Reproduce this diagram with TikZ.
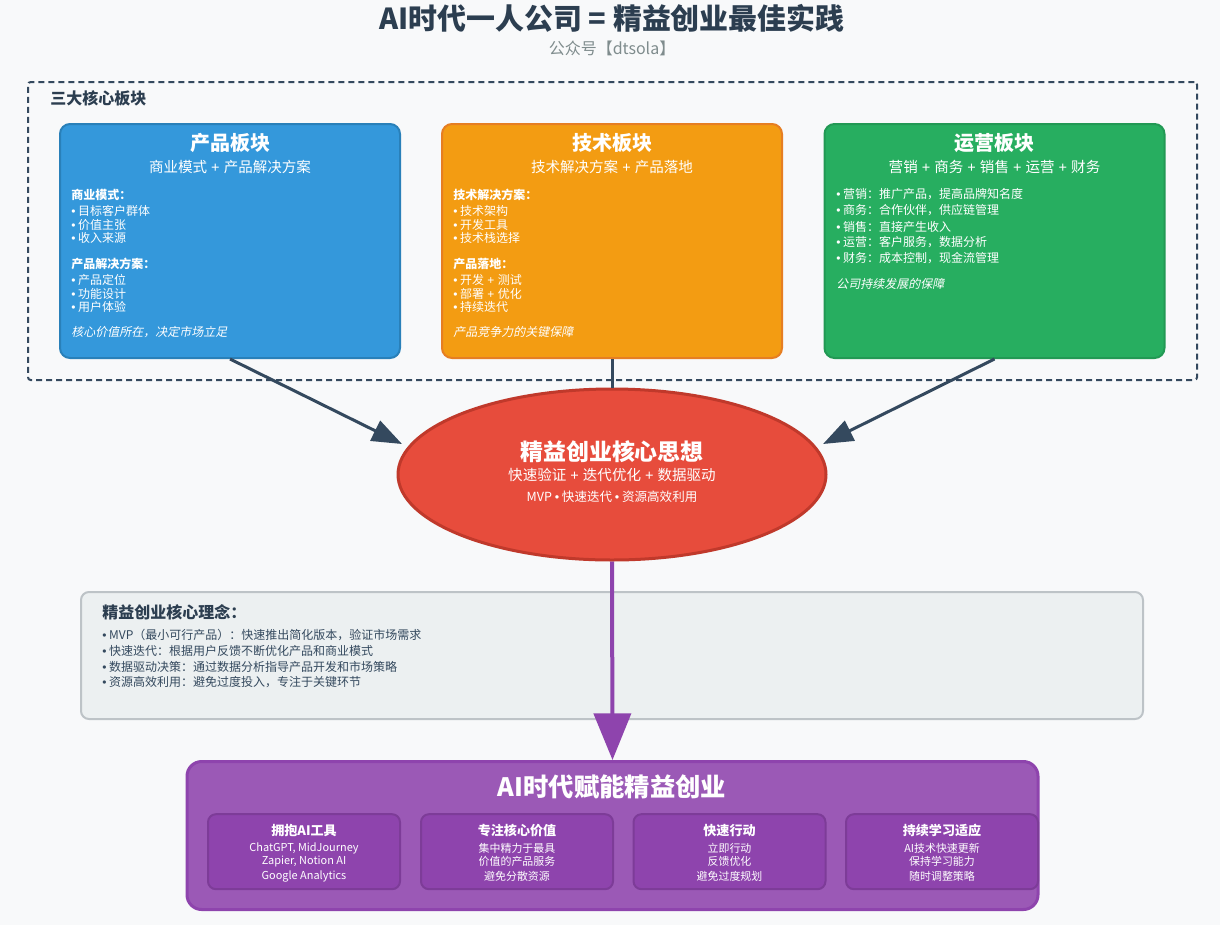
\documentclass[tikz,border=0pt]{standalone}
\usepackage{fontspec}
\setmainfont{Noto Sans CJK SC}
\newfontfamily\slfont{Noto Sans CJK SC}[FakeSlant=0.2]
\newfontfamily\latf{Liberation Sans}
\newcommand{\bl}{{\latf •} }
\newcommand{\pl}{{\latf{} + }}
\usetikzlibrary{arrows.meta,shapes.geometric}
\definecolor{bg}{HTML}{F8F9FA}
\definecolor{ink}{HTML}{2C3E50}
\definecolor{ink2}{HTML}{34495E}
\definecolor{greyt}{HTML}{7F8C8D}
\definecolor{bluef}{HTML}{3498DB}
\definecolor{blued}{HTML}{2980B9}
\definecolor{orf}{HTML}{F39C12}
\definecolor{ord}{HTML}{E67E22}
\definecolor{grf}{HTML}{27AE60}
\definecolor{grd}{HTML}{229954}
\definecolor{redf}{HTML}{E74C3C}
\definecolor{redd}{HTML}{C0392B}
\definecolor{conf}{HTML}{ECF0F1}
\definecolor{cond}{HTML}{BDC3C7}
\definecolor{purf}{HTML}{9B59B6}
\definecolor{purd}{HTML}{8E44AD}
\definecolor{purdd}{HTML}{7D3C98}
\tikzset{
  panel/.style={draw, rounded corners=7.5pt, line width=1.5pt, inner sep=0pt,
    minimum width=255pt, minimum height=175.5pt},
  ptitle/.style={font=\bfseries\fontsize{15}{18}\selectfont, text=white, inner sep=0pt},
  psub/.style={font=\fontsize{10.9}{13}\selectfont, text=white, inner sep=0pt},
  itm/.style={font=\fontsize{9}{11}\selectfont, text=white, anchor=west, inner sep=0pt},
  itb/.style={itm, font=\bfseries\fontsize{9}{11}\selectfont},
  iti/.style={itm, font=\slfont\fontsize{9}{11}\selectfont},
  darrow/.style={draw=ink2, line width=2.25pt, -{Triangle[length=22.5pt,width=16.5pt]}},
  cbox/.style={draw=purdd, fill=purd, line width=1.5pt, rounded corners=6pt,
    minimum width=144pt, minimum height=56.25pt, inner sep=0pt},
  ctitle/.style={font=\bfseries\fontsize{9.8}{12}\selectfont, text=white, inner sep=0pt},
  cline/.style={font=\fontsize{8.2}{10}\selectfont, text=white, inner sep=0pt},
  citm/.style={font=\fontsize{9}{11}\selectfont, text=ink2, anchor=west, inner sep=0pt}
}
\begin{document}
\begin{tikzpicture}[x=0.75pt,y=-0.75pt]
\useasboundingbox (0,0) rectangle (1220,925);
\fill[bg] (0,0) rectangle (1220,925);

% title
\node[font=\bfseries\fontsize{21.7}{25}\selectfont, text=ink, inner sep=0pt] (title) at (612,18) {AI时代一人公司 = 精益创业最佳实践};
\node[font=\fontsize{12}{14}\selectfont, text=greyt, inner sep=0pt] (subtitle) at (612,48) {公众号【dtsola】};

% dashed frame
\node[draw=ink2, line width=1.5pt, dash pattern=on 4.5pt off 3pt, rounded corners=2pt,
  minimum width=876.75pt, minimum height=223.5pt, inner sep=0pt] (frame) at (612.5,231) {};
\node[font=\bfseries\fontsize{12}{14}\selectfont, text=ink, anchor=west, inner sep=0pt] (framelbl) at (50,98) {三大核心板块};

% product panel
\node[panel, fill=bluef, draw=blued] (prod) at (230,241) {};
\node[ptitle] (prodt) at (230,143) {产品板块};
\node[psub] (prods) at (230,166.5) {商业模式\pl 产品解决方案};
\node[itb] (p1) at (71,194.5) {商业模式：};
\node[itm] (p2) at (71,210.5) {\bl 目标客户群体};
\node[itm] (p3) at (71,224.5) {\bl 价值主张};
\node[itm] (p4) at (71,238) {\bl 收入来源};
\node[itb] (p5) at (71,264) {产品解决方案：};
\node[itm] (p6) at (71,280) {\bl 产品定位};
\node[itm] (p7) at (71,293.5) {\bl 功能设计};
\node[itm] (p8) at (71,307) {\bl 用户体验};
\node[iti] (p9) at (71,332) {核心价值所在，决定市场立足};

% tech panel
\node[panel, fill=orf, draw=ord] (tech) at (612,241) {};
\node[ptitle] (techt) at (612,143) {技术板块};
\node[psub] (techs) at (612,166.5) {技术解决方案\pl 产品落地};
\node[itb] (t1) at (453,194.5) {技术解决方案：};
\node[itm] (t2) at (453,210.5) {\bl 技术架构};
\node[itm] (t3) at (453,224.5) {\bl 开发工具};
\node[itm] (t4) at (453,238) {\bl 技术栈选择};
\node[itb] (t5) at (453,264) {产品落地：};
\node[itm] (t6) at (453,280) {\bl 开发\pl 测试};
\node[itm] (t7) at (453,293.5) {\bl 部署\pl 优化};
\node[itm] (t8) at (453,307) {\bl 持续迭代};
\node[iti] (t9) at (453,332) {产品竞争力的关键保障};

% ops panel
\node[panel, fill=grf, draw=grd] (ops) at (994.5,241) {};
\node[ptitle] (opst) at (994.5,143) {运营板块};
\node[psub] (opss) at (994.5,166.5) {营销\pl 商务\pl 销售\pl 运营\pl 财务};
\node[itm] (o1) at (836,194.5) {\bl 营销：推广产品，提高品牌知名度};
\node[itm] (o2) at (836,210.5) {\bl 商务：合作伙伴，供应链管理};
\node[itm] (o3) at (836,226.5) {\bl 销售：直接产生收入};
\node[itm] (o4) at (836,242.5) {\bl 运营：客户服务，数据分析};
\node[itm] (o5) at (836,258.5) {\bl 财务：成本控制，现金流管理};
\node[iti] (o6) at (836,284) {公司持续发展的保障};

% concept box
\node[draw=cond, fill=conf, line width=1.5pt, rounded corners=6pt,
  minimum width=796.5pt, minimum height=95.25pt, inner sep=0pt] (concept) at (612,655.5) {};
\node[font=\bfseries\fontsize{12}{14}\selectfont, text=ink, anchor=west, inner sep=0pt] (conceptt) at (102,612.5) {精益创业核心理念：};
\node[citm] (c1) at (102,634.5) {\bl MVP（最小可行产品）：快速推出简化版本，验证市场需求};
\node[citm] (c2) at (102,650.5) {\bl 快速迭代：根据用户反馈不断优化产品和商业模式};
\node[citm] (c3) at (102,666.5) {\bl 数据驱动决策：通过数据分析指导产品开发和市场策略};
\node[citm] (c4) at (102,682.5) {\bl 资源高效利用：避免过度投入，专注于关键环节};

% ellipse
\node[ellipse, draw=redd, fill=redf, line width=2.25pt, minimum width=321pt, minimum height=128.25pt, inner sep=0pt] (core) at (612,474.5) {};
\node[font=\bfseries\fontsize{17.2}{20}\selectfont, text=white, inner sep=0pt] (coret) at (612,451.5) {精益创业核心思想};
\node[font=\fontsize{10.9}{13}\selectfont, text=white, inner sep=0pt] (cores) at (612,475) {快速验证\pl 迭代优化\pl 数据驱动};
\node[font=\fontsize{9.4}{11}\selectfont, text=white, inner sep=0pt] (corem) at (612,496.5) {MVP {\latf •} 快速迭代 {\latf •} 资源高效利用};

% arrows into ellipse
\coordinate (tipL) at (402,444);
\coordinate (tipR) at (823,444);
\draw[darrow] (prod.south) -- (tipL);
\draw[darrow] (ops.south) -- (tipR);
\draw[draw=ink2, line width=2.25pt] (tech.south) -- (core.north);

% bottom box
\node[draw=purd, fill=purf, line width=2.25pt, rounded corners=11pt,
  minimum width=638.25pt, minimum height=111pt, inner sep=0pt] (ai) at (612.5,835.5) {};
\node[font=\bfseries\fontsize{19}{22}\selectfont, text=white, inner sep=0pt] (ait) at (612,787) {AI时代赋能精益创业};

% purple arrow
\draw[draw=purd, line width=3pt, -{Triangle[length=35pt,width=27.75pt]}] (core.south) -- (ai.north);

\node[cbox] (b1) at (304,851.7) {};
\node[cbox] (b2) at (517,851.7) {};
\node[cbox] (b3) at (729.5,851.7) {};
\node[cbox] (b4) at (942,851.7) {};

\node[ctitle] (b1t) at (304,830.7) {拥抱AI工具};
\node[cline] (b1a) at (304,848.3) {ChatGPT, MidJourney};
\node[cline] (b1b) at (304,861.8) {Zapier, Notion AI};
\node[cline] (b1c) at (304,876) {Google Analytics};

\node[ctitle] (b2t) at (517,830.7) {专注核心价值};
\node[cline] (b2a) at (517,848.3) {集中精力于最具};
\node[cline] (b2b) at (517,861.8) {价值的产品服务};
\node[cline] (b2c) at (517,876) {避免分散资源};

\node[ctitle] (b3t) at (729.5,830.7) {快速行动};
\node[cline] (b3a) at (729.5,848.3) {立即行动};
\node[cline] (b3b) at (729.5,861.8) {反馈优化};
\node[cline] (b3c) at (729.5,876) {避免过度规划};

\node[ctitle] (b4t) at (942,830.7) {持续学习适应};
\node[cline] (b4a) at (942,848.3) {AI技术快速更新};
\node[cline] (b4b) at (942,861.8) {保持学习能力};
\node[cline] (b4c) at (942,876) {随时调整策略};
\end{tikzpicture}
\end{document}
